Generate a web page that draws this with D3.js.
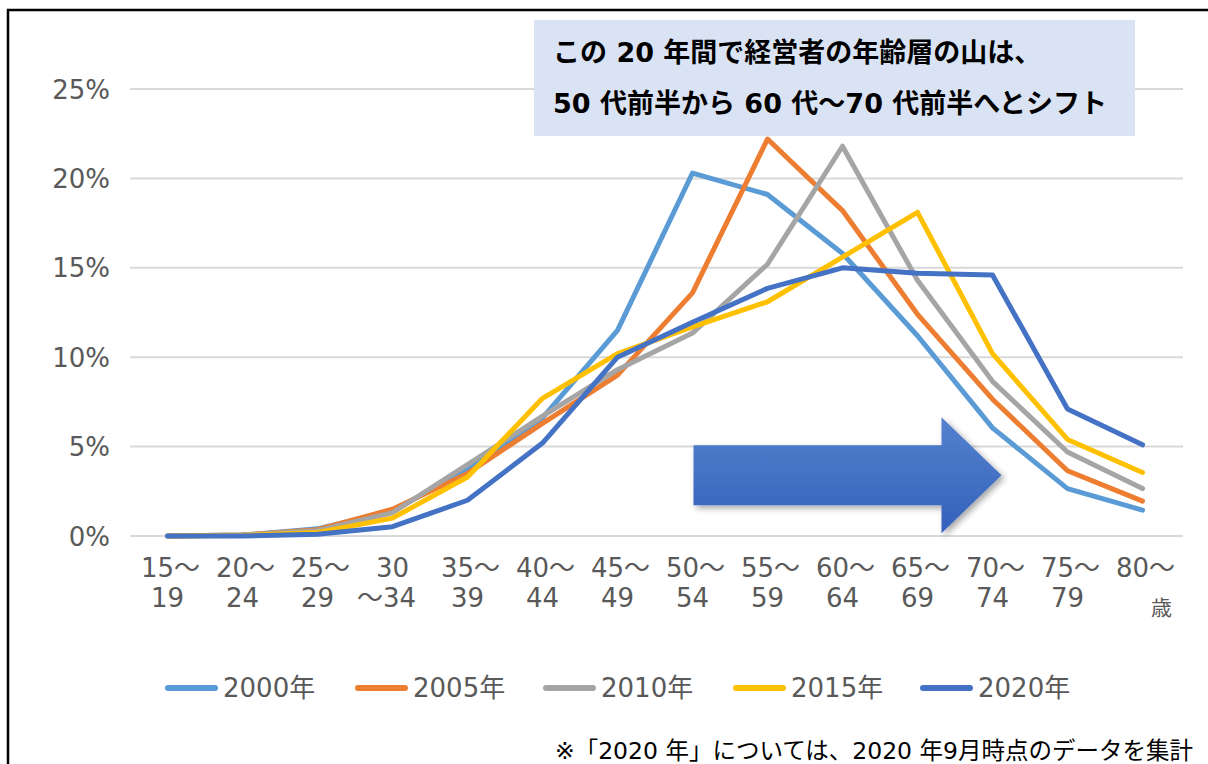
<!DOCTYPE html>
<html><head><meta charset="utf-8">
<script src="https://cdn.jsdelivr.net/npm/d3@7"></script>
<style>
body{margin:0;background:#fff;}
svg{display:block;font-family:"DejaVu Sans","Noto Sans CJK JP",sans-serif;}
</style></head>
<body><svg id="c" width="1208" height="764"></svg>
<script>
const categories = ["15~19","20~24","25~29","30~34","35~39","40~44","45~49","50~54","55~59","60~64","65~69","70~74","75~79","80~"];
const labelTop = ["15～","20～","25～","30","35～","40～","45～","50～","55～","60～","65～","70～","75～","80～"];
const labelBottom = ["19","24","29","～34","39","44","49","54","59","64","69","74","79","歳"];
const seriesNames = ["2000年","2005年","2010年","2015年","2020年"];
const seriesColors = ["#5B9BD5","#ED7D31","#A5A5A5","#FFC000","#4472C4"];
const v2000 = [0,0.05,0.4,1.4,3.7,6.6,11.5,20.3,19.1,15.8,11.2,6.05,2.65,1.45];
const v2005 = [0,0.05,0.35,1.5,3.5,6.3,9.0,13.6,22.2,18.2,12.4,7.65,3.65,1.95];
const v2010 = [0,0.05,0.3,1.3,4.0,6.7,9.3,11.35,15.2,21.8,14.3,8.65,4.7,2.65];
const v2015 = [0,0.03,0.2,1.0,3.3,7.7,10.2,11.7,13.1,15.6,18.1,10.2,5.4,3.55];
const v2020 = [0,0.0,0.1,0.52,2.0,5.2,10.0,11.95,13.85,15.0,14.7,14.6,7.1,5.1];
const yTicks = [0,5,10,15,20,25];
const titleLines = ["この 20 年間で経営者の年齢層の山は、","50 代前半から 60 代～70 代前半へとシフト"];
const footnote = "※「2020 年」については、2020 年9月時点のデータを集計";
const allSeries = [v2000,v2005,v2010,v2015,v2020];

const svg = d3.select("#c");
// frame
svg.append("path").attr("d","M8,764 V10 H1208").attr("fill","none").attr("stroke","#000").attr("stroke-width",2.5);

const x = d3.scaleBand().domain(categories).range([130,1180]);
const y = d3.scaleLinear().domain([0,25]).range([536,89]);
const cx = d => x(d)+x.bandwidth()/2;

// gridlines
svg.append("g").selectAll("line").data(yTicks).join("line")
  .attr("x1",130).attr("x2",1183).attr("y1",d=>y(d)).attr("y2",d=>y(d))
  .attr("stroke","#D9D9D9").attr("stroke-width",2);

// y labels
svg.append("g").selectAll("text").data(yTicks).join("text")
  .attr("x",110).attr("y",d=>y(d)+9.5).attr("text-anchor","end")
  .attr("font-size",26).attr("fill","#595959").text(d=>d+"%");

// x labels
const xl = svg.append("g");
xl.selectAll("text.t").data(categories).join("text").attr("class","t")
  .attr("x",(d,i)=>cx(d)+(labelTop[i].endsWith("～")?3:0)).attr("y",577).attr("text-anchor","middle")
  .attr("font-size",26).attr("fill","#595959").text((d,i)=>labelTop[i]);
xl.selectAll("text.b").data(categories).join("text").attr("class","b")
  .attr("x",(d,i)=>cx(d)+(labelBottom[i]==="歳"?19:(labelBottom[i].startsWith("～")?-6:0))).attr("y",(d,i)=>labelBottom[i]==="歳"?615:607).attr("text-anchor","middle")
  .attr("font-size",(d,i)=>labelBottom[i]==="歳"?21:26).attr("fill","#595959").text((d,i)=>labelBottom[i]);

// lines
const line = d3.line().x((d,i)=>cx(categories[i])).y(d=>y(d));
svg.append("g").selectAll("path").data(allSeries).join("path")
  .attr("d",d=>line(d)).attr("fill","none")
  .attr("stroke",(d,i)=>seriesColors[i]).attr("stroke-width",5)
  .attr("stroke-linejoin","round").attr("stroke-linecap","round");

// arrow
const defs = svg.append("defs");
const g = defs.append("linearGradient").attr("id","ag").attr("x1",0).attr("y1",0).attr("x2",0).attr("y2",1);
g.append("stop").attr("offset","0%").attr("stop-color","#5580CF");
g.append("stop").attr("offset","50%").attr("stop-color","#4472C4");
g.append("stop").attr("offset","100%").attr("stop-color","#3360BC");
const f = defs.append("filter").attr("id","sh").attr("x","-10%").attr("y","-10%").attr("width","130%").attr("height","130%");
f.append("feDropShadow").attr("dx",3).attr("dy",3).attr("stdDeviation",3).attr("flood-color","#000").attr("flood-opacity",0.35);
const ax0 = x("50~54")+x.bandwidth()/2+1, ay = y(3.4);
svg.append("path")
  .attr("d",`M${ax0},${ay-30} H${ax0+248} V${ay-58} L${ax0+308},${ay} L${ax0+248},${ay+58} V${ay+30} H${ax0} Z`)
  .attr("fill","url(#ag)").attr("filter","url(#sh)");

// title box
svg.append("rect").attr("x",534).attr("y",20).attr("width",601).attr("height",116).attr("fill","#DAE3F3");
svg.append("g").selectAll("text").data(titleLines).join("text")
  .attr("x",553).attr("y",(d,i)=>62+i*51).attr("font-size",27).attr("font-weight","bold").attr("fill","#000")
  .text(d=>d);

// legend
const lg = svg.append("g");
const legX = [165,355,543,733,920];
seriesNames.forEach((n,i)=>{
  lg.append("line").attr("x1",legX[i]+3).attr("x2",legX[i]+50).attr("y1",688).attr("y2",688)
    .attr("stroke",seriesColors[i]).attr("stroke-width",6).attr("stroke-linecap","round");
  lg.append("text").attr("x",legX[i]+58).attr("y",697).attr("font-size",26).attr("fill","#595959").text(n);
});

// footnote
svg.append("text").attr("x",1193).attr("y",759).attr("text-anchor","end").attr("font-size",23.5).attr("fill","#000").text(footnote);
</script></body></html>
